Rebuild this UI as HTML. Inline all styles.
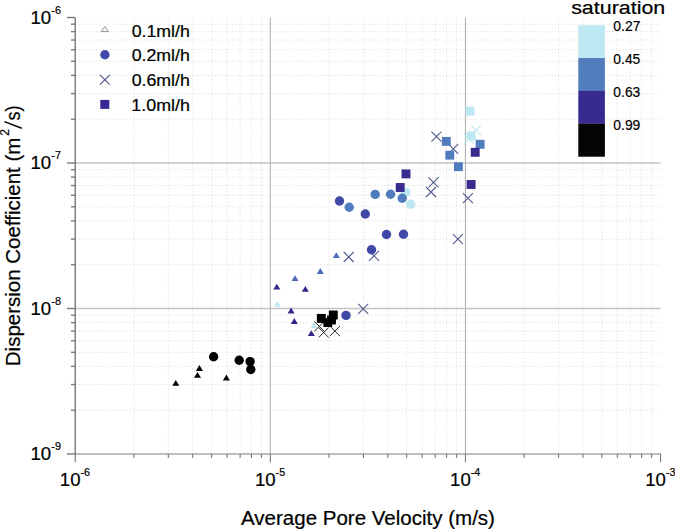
<!DOCTYPE html>
<html><head><meta charset="utf-8"><style>
html,body{margin:0;padding:0;background:#fff;width:675px;height:530px;overflow:hidden}
svg{display:block}
text{font-family:"Liberation Sans",sans-serif;fill:#000;stroke:#000;stroke-width:0.2px}
.mg{stroke:#e6e6e6;stroke-width:1;stroke-dasharray:1.6 1.8}
.Mgv{stroke:#b2b2b2;stroke-width:1.1}
.Mgh{stroke:#c4c4c4;stroke-width:1.6}
.ax{stroke:#7a7a7a;stroke-width:1.4}
.axh{stroke:#7d7d7d;stroke-width:1.15}
</style></head><body>
<svg width="675" height="530" viewBox="0 0 675 530">
<rect width="675" height="530" fill="#fff"/>
<line x1="133.98" y1="17.50" x2="133.98" y2="454.00" class="mg"/>
<line x1="168.34" y1="17.50" x2="168.34" y2="454.00" class="mg"/>
<line x1="192.71" y1="17.50" x2="192.71" y2="454.00" class="mg"/>
<line x1="211.62" y1="17.50" x2="211.62" y2="454.00" class="mg"/>
<line x1="227.07" y1="17.50" x2="227.07" y2="454.00" class="mg"/>
<line x1="240.13" y1="17.50" x2="240.13" y2="454.00" class="mg"/>
<line x1="251.44" y1="17.50" x2="251.44" y2="454.00" class="mg"/>
<line x1="261.42" y1="17.50" x2="261.42" y2="454.00" class="mg"/>
<line x1="329.08" y1="17.50" x2="329.08" y2="454.00" class="mg"/>
<line x1="363.44" y1="17.50" x2="363.44" y2="454.00" class="mg"/>
<line x1="387.81" y1="17.50" x2="387.81" y2="454.00" class="mg"/>
<line x1="406.72" y1="17.50" x2="406.72" y2="454.00" class="mg"/>
<line x1="422.17" y1="17.50" x2="422.17" y2="454.00" class="mg"/>
<line x1="435.23" y1="17.50" x2="435.23" y2="454.00" class="mg"/>
<line x1="446.54" y1="17.50" x2="446.54" y2="454.00" class="mg"/>
<line x1="456.52" y1="17.50" x2="456.52" y2="454.00" class="mg"/>
<line x1="524.18" y1="17.50" x2="524.18" y2="454.00" class="mg"/>
<line x1="558.54" y1="17.50" x2="558.54" y2="454.00" class="mg"/>
<line x1="582.91" y1="17.50" x2="582.91" y2="454.00" class="mg"/>
<line x1="601.82" y1="17.50" x2="601.82" y2="454.00" class="mg"/>
<line x1="617.27" y1="17.50" x2="617.27" y2="454.00" class="mg"/>
<line x1="630.33" y1="17.50" x2="630.33" y2="454.00" class="mg"/>
<line x1="641.64" y1="17.50" x2="641.64" y2="454.00" class="mg"/>
<line x1="651.62" y1="17.50" x2="651.62" y2="454.00" class="mg"/>
<line x1="75.25" y1="410.20" x2="660.55" y2="410.20" class="mg"/>
<line x1="75.25" y1="384.58" x2="660.55" y2="384.58" class="mg"/>
<line x1="75.25" y1="366.40" x2="660.55" y2="366.40" class="mg"/>
<line x1="75.25" y1="352.30" x2="660.55" y2="352.30" class="mg"/>
<line x1="75.25" y1="340.78" x2="660.55" y2="340.78" class="mg"/>
<line x1="75.25" y1="331.04" x2="660.55" y2="331.04" class="mg"/>
<line x1="75.25" y1="322.60" x2="660.55" y2="322.60" class="mg"/>
<line x1="75.25" y1="315.16" x2="660.55" y2="315.16" class="mg"/>
<line x1="75.25" y1="264.70" x2="660.55" y2="264.70" class="mg"/>
<line x1="75.25" y1="239.08" x2="660.55" y2="239.08" class="mg"/>
<line x1="75.25" y1="220.90" x2="660.55" y2="220.90" class="mg"/>
<line x1="75.25" y1="206.80" x2="660.55" y2="206.80" class="mg"/>
<line x1="75.25" y1="195.28" x2="660.55" y2="195.28" class="mg"/>
<line x1="75.25" y1="185.54" x2="660.55" y2="185.54" class="mg"/>
<line x1="75.25" y1="177.10" x2="660.55" y2="177.10" class="mg"/>
<line x1="75.25" y1="169.66" x2="660.55" y2="169.66" class="mg"/>
<line x1="75.25" y1="119.20" x2="660.55" y2="119.20" class="mg"/>
<line x1="75.25" y1="93.58" x2="660.55" y2="93.58" class="mg"/>
<line x1="75.25" y1="75.40" x2="660.55" y2="75.40" class="mg"/>
<line x1="75.25" y1="61.30" x2="660.55" y2="61.30" class="mg"/>
<line x1="75.25" y1="49.78" x2="660.55" y2="49.78" class="mg"/>
<line x1="75.25" y1="40.04" x2="660.55" y2="40.04" class="mg"/>
<line x1="75.25" y1="31.60" x2="660.55" y2="31.60" class="mg"/>
<line x1="75.25" y1="24.16" x2="660.55" y2="24.16" class="mg"/>
<line x1="270.35" y1="17.50" x2="270.35" y2="454.00" class="Mgv"/>
<line x1="465.45" y1="17.50" x2="465.45" y2="454.00" class="Mgv"/>
<line x1="75.25" y1="163.00" x2="660.55" y2="163.00" class="Mgh"/>
<line x1="75.25" y1="308.50" x2="660.55" y2="308.50" class="Mgh"/>
<line x1="67" y1="17.50" x2="75.25" y2="17.50" class="ax"/>
<line x1="71" y1="119.20" x2="75.25" y2="119.20" class="ax"/>
<line x1="71" y1="93.58" x2="75.25" y2="93.58" class="ax"/>
<line x1="71" y1="75.40" x2="75.25" y2="75.40" class="ax"/>
<line x1="71" y1="61.30" x2="75.25" y2="61.30" class="ax"/>
<line x1="71" y1="49.78" x2="75.25" y2="49.78" class="ax"/>
<line x1="71" y1="40.04" x2="75.25" y2="40.04" class="ax"/>
<line x1="71" y1="31.60" x2="75.25" y2="31.60" class="ax"/>
<line x1="71" y1="24.16" x2="75.25" y2="24.16" class="ax"/>
<line x1="67" y1="163.00" x2="75.25" y2="163.00" class="ax"/>
<line x1="71" y1="264.70" x2="75.25" y2="264.70" class="ax"/>
<line x1="71" y1="239.08" x2="75.25" y2="239.08" class="ax"/>
<line x1="71" y1="220.90" x2="75.25" y2="220.90" class="ax"/>
<line x1="71" y1="206.80" x2="75.25" y2="206.80" class="ax"/>
<line x1="71" y1="195.28" x2="75.25" y2="195.28" class="ax"/>
<line x1="71" y1="185.54" x2="75.25" y2="185.54" class="ax"/>
<line x1="71" y1="177.10" x2="75.25" y2="177.10" class="ax"/>
<line x1="71" y1="169.66" x2="75.25" y2="169.66" class="ax"/>
<line x1="67" y1="308.50" x2="75.25" y2="308.50" class="ax"/>
<line x1="71" y1="410.20" x2="75.25" y2="410.20" class="ax"/>
<line x1="71" y1="384.58" x2="75.25" y2="384.58" class="ax"/>
<line x1="71" y1="366.40" x2="75.25" y2="366.40" class="ax"/>
<line x1="71" y1="352.30" x2="75.25" y2="352.30" class="ax"/>
<line x1="71" y1="340.78" x2="75.25" y2="340.78" class="ax"/>
<line x1="71" y1="331.04" x2="75.25" y2="331.04" class="ax"/>
<line x1="71" y1="322.60" x2="75.25" y2="322.60" class="ax"/>
<line x1="71" y1="315.16" x2="75.25" y2="315.16" class="ax"/>
<line x1="67" y1="454.00" x2="75.25" y2="454.00" class="ax"/>
<line x1="75.25" y1="454.00" x2="75.25" y2="462.3" class="axh"/>
<line x1="133.98" y1="454.00" x2="133.98" y2="458" class="axh"/>
<line x1="168.34" y1="454.00" x2="168.34" y2="458" class="axh"/>
<line x1="192.71" y1="454.00" x2="192.71" y2="458" class="axh"/>
<line x1="211.62" y1="454.00" x2="211.62" y2="458" class="axh"/>
<line x1="227.07" y1="454.00" x2="227.07" y2="458" class="axh"/>
<line x1="240.13" y1="454.00" x2="240.13" y2="458" class="axh"/>
<line x1="251.44" y1="454.00" x2="251.44" y2="458" class="axh"/>
<line x1="261.42" y1="454.00" x2="261.42" y2="458" class="axh"/>
<line x1="270.35" y1="454.00" x2="270.35" y2="462.3" class="axh"/>
<line x1="329.08" y1="454.00" x2="329.08" y2="458" class="axh"/>
<line x1="363.44" y1="454.00" x2="363.44" y2="458" class="axh"/>
<line x1="387.81" y1="454.00" x2="387.81" y2="458" class="axh"/>
<line x1="406.72" y1="454.00" x2="406.72" y2="458" class="axh"/>
<line x1="422.17" y1="454.00" x2="422.17" y2="458" class="axh"/>
<line x1="435.23" y1="454.00" x2="435.23" y2="458" class="axh"/>
<line x1="446.54" y1="454.00" x2="446.54" y2="458" class="axh"/>
<line x1="456.52" y1="454.00" x2="456.52" y2="458" class="axh"/>
<line x1="465.45" y1="454.00" x2="465.45" y2="462.3" class="axh"/>
<line x1="524.18" y1="454.00" x2="524.18" y2="458" class="axh"/>
<line x1="558.54" y1="454.00" x2="558.54" y2="458" class="axh"/>
<line x1="582.91" y1="454.00" x2="582.91" y2="458" class="axh"/>
<line x1="601.82" y1="454.00" x2="601.82" y2="458" class="axh"/>
<line x1="617.27" y1="454.00" x2="617.27" y2="458" class="axh"/>
<line x1="630.33" y1="454.00" x2="630.33" y2="458" class="axh"/>
<line x1="641.64" y1="454.00" x2="641.64" y2="458" class="axh"/>
<line x1="651.62" y1="454.00" x2="651.62" y2="458" class="axh"/>
<line x1="660.55" y1="454.00" x2="660.55" y2="462.3" class="axh"/>
<line x1="75.25" y1="17.50" x2="75.25" y2="454.00" class="ax"/>
<line x1="74.55" y1="454.00" x2="661.05" y2="454.00" class="axh"/>
<path d="M471.00 125.40L481.00 135.40M481.00 125.40L471.00 135.40" stroke="#bde8f2" stroke-width="1.1" fill="none"/>
<path d="M464.00 134.00L474.00 144.00M474.00 134.00L464.00 144.00" stroke="#bde8f2" stroke-width="1.1" fill="none"/>
<path d="M343.70 252.00L353.70 262.00M353.70 252.00L343.70 262.00" stroke="#505a8c" stroke-width="1.1" fill="none"/>
<path d="M369.00 250.80L379.00 260.80M379.00 250.80L369.00 260.80" stroke="#505a8c" stroke-width="1.1" fill="none"/>
<path d="M358.20 303.90L368.20 313.90M368.20 303.90L358.20 313.90" stroke="#505a8c" stroke-width="1.1" fill="none"/>
<path d="M428.50 177.40L438.50 187.40M438.50 177.40L428.50 187.40" stroke="#505a8c" stroke-width="1.1" fill="none"/>
<path d="M426.00 187.00L436.00 197.00M436.00 187.00L426.00 197.00" stroke="#505a8c" stroke-width="1.1" fill="none"/>
<path d="M462.90 193.10L472.90 203.10M472.90 193.10L462.90 203.10" stroke="#505a8c" stroke-width="1.1" fill="none"/>
<path d="M452.90 234.10L462.90 244.10M462.90 234.10L452.90 244.10" stroke="#505a8c" stroke-width="1.1" fill="none"/>
<path d="M431.40 131.60L441.40 141.60M441.40 131.60L431.40 141.60" stroke="#505a8c" stroke-width="1.1" fill="none"/>
<path d="M448.30 143.90L458.30 153.90M458.30 143.90L448.30 153.90" stroke="#505a8c" stroke-width="1.1" fill="none"/>
<path d="M273.80 306.80L277.30 300.90L280.80 306.80Z" fill="#bde8f2"/>
<path d="M310.40 328.20L313.90 322.30L317.40 328.20Z" fill="#bde8f2"/>
<rect x="465.55" y="106.75" width="8.9" height="8.9" fill="#bde8f2"/>
<rect x="466.65" y="131.35" width="8.9" height="8.9" fill="#bde8f2"/>
<circle cx="405.80" cy="192.40" r="4.7" fill="#bde8f2"/>
<circle cx="410.70" cy="204.20" r="4.7" fill="#bde8f2"/>
<path d="M291.50 281.10L295.00 275.20L298.50 281.10Z" fill="#4d6ab5"/>
<path d="M316.80 274.00L320.30 268.10L323.80 274.00Z" fill="#4d6ab5"/>
<path d="M332.80 258.10L336.30 252.20L339.80 258.10Z" fill="#4d6ab5"/>
<circle cx="375.20" cy="194.40" r="4.7" fill="#517cbd"/>
<circle cx="390.60" cy="194.30" r="4.7" fill="#517cbd"/>
<circle cx="402.20" cy="198.30" r="4.7" fill="#517cbd"/>
<circle cx="349.20" cy="207.20" r="4.7" fill="#517cbd"/>
<rect x="441.85" y="136.95" width="8.9" height="8.9" fill="#517cbd"/>
<rect x="445.35" y="150.75" width="8.9" height="8.9" fill="#517cbd"/>
<rect x="453.95" y="162.25" width="8.9" height="8.9" fill="#517cbd"/>
<rect x="475.65" y="139.85" width="8.9" height="8.9" fill="#517cbd"/>
<circle cx="339.50" cy="201.00" r="4.7" fill="#4048a8"/>
<circle cx="365.30" cy="214.00" r="4.7" fill="#4048a8"/>
<circle cx="386.50" cy="234.50" r="4.7" fill="#4048a8"/>
<circle cx="403.50" cy="234.30" r="4.7" fill="#4048a8"/>
<circle cx="371.50" cy="249.70" r="4.7" fill="#4048a8"/>
<circle cx="346.00" cy="315.40" r="4.7" fill="#4048a8"/>
<path d="M273.30 289.60L276.80 283.70L280.30 289.60Z" fill="#2f288a"/>
<path d="M301.80 291.80L305.30 285.90L308.80 291.80Z" fill="#2f288a"/>
<path d="M287.60 313.40L291.10 307.50L294.60 313.40Z" fill="#2f288a"/>
<path d="M290.80 323.90L294.30 318.00L297.80 323.90Z" fill="#2f288a"/>
<path d="M307.80 336.10L311.30 330.20L314.80 336.10Z" fill="#2f288a"/>
<rect x="401.55" y="169.45" width="8.9" height="8.9" fill="#372b8f"/>
<rect x="395.75" y="183.05" width="8.9" height="8.9" fill="#372b8f"/>
<rect x="470.75" y="147.85" width="8.9" height="8.9" fill="#372b8f"/>
<rect x="466.65" y="180.05" width="8.9" height="8.9" fill="#372b8f"/>
<path d="M314.30 321.40L324.30 331.40M324.30 321.40L314.30 331.40" stroke="#262626" stroke-width="1.0" fill="none"/>
<path d="M318.70 327.50L328.70 337.50M328.70 327.50L318.70 337.50" stroke="#262626" stroke-width="1.0" fill="none"/>
<path d="M329.90 326.10L339.90 336.10M339.90 326.10L329.90 336.10" stroke="#262626" stroke-width="1.0" fill="none"/>
<path d="M172.30 385.80L175.80 379.90L179.30 385.80Z" fill="#000000"/>
<path d="M195.90 371.00L199.40 365.10L202.90 371.00Z" fill="#000000"/>
<path d="M194.00 377.80L197.50 371.90L201.00 377.80Z" fill="#000000"/>
<path d="M222.90 380.40L226.40 374.50L229.90 380.40Z" fill="#000000"/>
<circle cx="213.60" cy="356.70" r="4.7" fill="#000000"/>
<circle cx="239.20" cy="360.20" r="4.7" fill="#000000"/>
<circle cx="250.10" cy="361.60" r="4.7" fill="#000000"/>
<circle cx="250.80" cy="369.50" r="4.7" fill="#000000"/>
<rect x="316.85" y="313.95" width="8.9" height="8.9" fill="#000000"/>
<rect x="328.85" y="310.55" width="8.9" height="8.9" fill="#000000"/>
<rect x="323.35" y="318.05" width="8.9" height="8.9" fill="#000000"/>
<rect x="327.05" y="315.55" width="8.9" height="8.9" fill="#000000"/>
<path d="M101.3 31.6L104.8 26.6L108.3 31.6Z" fill="#fff" stroke="#8a8a8a" stroke-width="0.9"/>
<circle cx="104.90" cy="54.70" r="4.7" fill="#4048a8"/>
<path d="M100.00 74.90L109.80 84.70M109.80 74.90L100.00 84.70" stroke="#505a8c" stroke-width="1.2" fill="none"/>
<rect x="100.30" y="99.90" width="9" height="9" fill="#352a95"/>
<rect x="578.3" y="25.20" width="26.6" height="32.95" fill="#bde8f2"/>
<rect x="578.3" y="58.05" width="26.6" height="32.95" fill="#517cbd"/>
<rect x="578.3" y="90.90" width="26.6" height="32.95" fill="#372b8f"/>
<rect x="578.3" y="123.75" width="26.6" height="32.95" fill="#050505"/>
<text x="30.51" y="23.50" font-size="18.6">10</text>
<text x="51.37" y="13.80" font-size="10.8">-6</text>
<text x="30.51" y="169.00" font-size="18.6">10</text>
<text x="51.37" y="159.30" font-size="10.8">-7</text>
<text x="30.51" y="314.50" font-size="18.6">10</text>
<text x="51.37" y="304.80" font-size="10.8">-8</text>
<text x="30.51" y="460.00" font-size="18.6">10</text>
<text x="51.37" y="450.30" font-size="10.8">-9</text>
<text x="59.86" y="486.00" font-size="18.6">10</text>
<text x="80.52" y="475.80" font-size="10.8">-6</text>
<text x="254.96" y="486.00" font-size="18.6">10</text>
<text x="275.62" y="475.80" font-size="10.8">-5</text>
<text x="450.06" y="486.00" font-size="18.6">10</text>
<text x="470.72" y="475.80" font-size="10.8">-4</text>
<text x="645.16" y="486.00" font-size="18.6">10</text>
<text x="665.82" y="475.80" font-size="10.8">-3</text>
<text x="131.69" y="36.60" font-size="16" textLength="58.15" lengthAdjust="spacingAndGlyphs">0.1ml/h</text>
<text x="131.69" y="61.20" font-size="16" textLength="58.15" lengthAdjust="spacingAndGlyphs">0.2ml/h</text>
<text x="131.69" y="86.10" font-size="16" textLength="58.15" lengthAdjust="spacingAndGlyphs">0.6ml/h</text>
<text x="131.36" y="110.90" font-size="16" textLength="58.49" lengthAdjust="spacingAndGlyphs">1.0ml/h</text>
<text x="613.34" y="31.10" font-size="15" textLength="27.07" lengthAdjust="spacingAndGlyphs">0.27</text>
<text x="613.35" y="64.00" font-size="15" textLength="26.93" lengthAdjust="spacingAndGlyphs">0.45</text>
<text x="613.35" y="97.00" font-size="15" textLength="26.93" lengthAdjust="spacingAndGlyphs">0.63</text>
<text x="613.35" y="129.60" font-size="15" textLength="27.00" lengthAdjust="spacingAndGlyphs">0.99</text>
<text x="571.16" y="14.20" font-size="18" textLength="94.07" lengthAdjust="spacingAndGlyphs">saturation</text>
<text x="241.00" y="525.40" font-size="19.5" textLength="253.95" lengthAdjust="spacingAndGlyphs">Average Pore Velocity (m/s)</text>
<text transform="translate(19.60 364.60) rotate(-90)" x="-1.64" y="0" font-size="19.5" textLength="228.62" lengthAdjust="spacingAndGlyphs">Dispersion Coefficient (m</text>
<text transform="translate(19.60 119.90) rotate(-90)" x="-0.54" y="0" font-size="19.5" textLength="14.97" lengthAdjust="spacingAndGlyphs">s)</text>
<line x1="4.4" y1="121.6" x2="21.8" y2="128.2" stroke="#000" stroke-width="1.45"/>
<text transform="translate(8.65 135.7) rotate(-90)" x="0" y="0" font-size="12">2</text>
</svg>
</body></html>
